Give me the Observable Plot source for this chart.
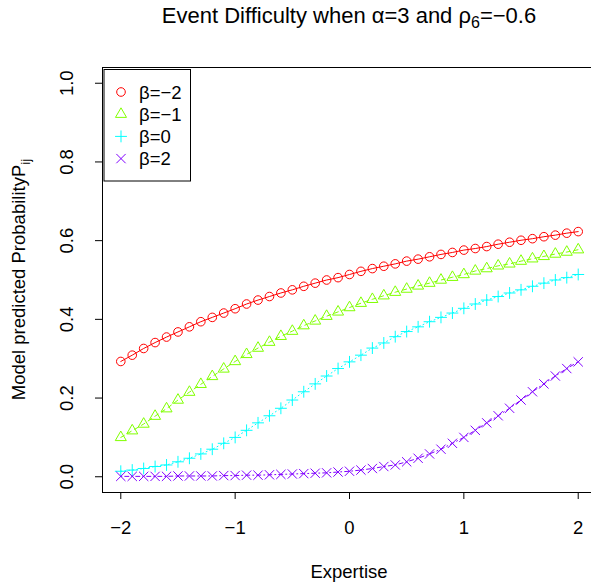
<!DOCTYPE html>
<html>
<head>
<meta charset="utf-8">
<script src="https://cdn.jsdelivr.net/npm/d3@7"></script>
<script src="https://cdn.jsdelivr.net/npm/@observablehq/plot@0.6"></script>
<style>
html, body { margin: 0; padding: 0; background: #fff; overflow: hidden; }
#fig { position: relative; width: 591px; height: 583px; overflow: hidden; background: #fff; }
#fig svg { display: block; max-width: none !important; }
</style>
</head>
<body>
<div id="fig"></div>
<script>
// ---- data ----
const expertise = [-2.0,-1.9,-1.8,-1.7,-1.6,-1.5,-1.4,-1.3,-1.2,-1.1,-1.0,-0.9,-0.8,-0.7,-0.6,-0.5,-0.4,-0.3,-0.2,-0.1,0.0,
  0.1,0.2,0.3,0.4,0.5,0.6,0.7,0.8,0.9,1.0,1.1,1.2,1.3,1.4,1.5,1.6,1.7,1.8,1.9,2.0];

const probBetaNeg2 = [0.293,0.309,0.326,0.341,0.355,0.368,0.381,0.394,0.405,0.416,0.427,0.439,0.449,0.458,0.467,0.475,0.484,0.492,0.500,0.506,0.514,
  0.522,0.529,0.535,0.541,0.548,0.553,0.559,0.565,0.570,0.576,0.580,0.585,0.591,0.596,0.601,0.605,0.610,0.614,0.619,0.623];

const probBetaNeg1 = [0.100,0.117,0.134,0.154,0.173,0.195,0.215,0.235,0.255,0.274,0.293,0.311,0.327,0.342,0.357,0.370,0.384,0.396,0.408,0.419,0.430,
  0.441,0.451,0.460,0.469,0.477,0.485,0.492,0.500,0.507,0.514,0.523,0.529,0.536,0.541,0.548,0.554,0.560,0.566,0.571,0.577];

const probBeta0 = [0.014,0.017,0.021,0.026,0.030,0.038,0.047,0.058,0.070,0.085,0.100,0.118,0.137,0.155,0.174,0.195,0.216,0.236,0.256,0.275,0.292,
  0.309,0.327,0.340,0.356,0.369,0.381,0.394,0.405,0.416,0.428,0.439,0.449,0.458,0.467,0.475,0.484,0.492,0.500,0.506,0.514];

const probBeta2 = [0.001,0.001,0.001,0.001,0.001,0.002,0.002,0.002,0.002,0.003,0.003,0.004,0.004,0.005,0.006,0.007,0.008,0.009,0.010,0.012,0.014,
  0.017,0.021,0.026,0.030,0.038,0.047,0.058,0.070,0.085,0.100,0.118,0.137,0.155,0.174,0.195,0.216,0.236,0.256,0.275,0.292];

const seriesNames = ["β=−2", "β=−1", "β=0", "β=2"];
const xTicks = [-2, -1, 0, 1, 2];
const xTickLabels = ["−2", "−1", "0", "1", "2"];
const yTicks = [0, 0.2, 0.4, 0.6, 0.8, 1.0];
const yTickLabels = ["0.0", "0.2", "0.4", "0.6", "0.8", "1.0"];

// ---- styles ----
const seriesColors = ["#FF0000", "#80FF00", "#00FFFF", "#8000FF"];
const seriesSymbols = ["circle", "triangle", "plus", "times"];
const seriesR = [4.3, 4.1, 3.9, 4.3];
const seriesDash = [null, "4,4", "1,3", "1,3,4,3"];
const d3Symbols = {circle: d3.symbolCircle, triangle: d3.symbolTriangle, plus: d3.symbolPlus, times: d3.symbolTimes};

const seriesValues = [probBetaNeg2, probBetaNeg1, probBeta0, probBeta2];
const rows = seriesNames.flatMap((name, k) => expertise.map((x, i) => ({k, series: name, x, p: seriesValues[k][i]})));

const FONT = "'Liberation Sans', Arial, Helvetica, sans-serif";
const FS = 18.5;

const marks = [Plot.frame({stroke: "black", strokeWidth: 1})];
seriesNames.forEach((name, k) => {
  const sub = rows.filter(d => d.k === k);
  marks.push(Plot.line(sub, {x: "x", y: "p", stroke: seriesColors[k], strokeWidth: 1, strokeDasharray: seriesDash[k]}));
});
seriesNames.forEach((name, k) => {
  const sub = rows.filter(d => d.k === k);
  marks.push(Plot.dot(sub, {x: "x", y: "p", symbol: seriesSymbols[k], r: seriesR[k], stroke: seriesColors[k], fill: "none", strokeWidth: 1}));
});
marks.push(Plot.axisX({ticks: xTicks, tickSize: 7, tickPadding: 21, tickFormat: d => xTickLabels[xTicks.indexOf(d)], fontSize: FS, label: null}));
marks.push(Plot.axisY({ticks: yTicks, tickSize: 7, tickFormat: () => "", label: null}));
marks.push(Plot.text(yTicks, {y: d => d, text: (d, i) => yTickLabels[i], frameAnchor: "left", dx: -35, rotate: -90, fontSize: FS, textAnchor: "middle", lineAnchor: "middle", fill: "black"}));

const chart = Plot.plot({
  width: 596,
  height: 583,
  marginLeft: 102,
  marginRight: 0,
  marginTop: 67,
  marginBottom: 91,
  x: {domain: [-2.16, 2.16]},
  y: {domain: [-0.04, 1.04]},
  style: {fontFamily: FONT, fontSize: FS + "px", background: "white", color: "black", overflow: "visible", maxWidth: "none"},
  marks
});

document.getElementById("fig").appendChild(chart);

// ---- titles, axis labels and legend ----
const svg = d3.select(chart);
const xs = chart.scale("x");
const ys = chart.scale("y");
const cx = (xs.range[0] + xs.range[1]) / 2;
const cy = (ys.range[0] + ys.range[1]) / 2;

const title = svg.append("text")
  .attr("x", cx).attr("y", 22.5)
  .attr("text-anchor", "middle")
  .attr("font-family", FONT).attr("font-size", 22).attr("fill", "black");
title.append("tspan").text("Event Difficulty when α=3 and ρ");
title.append("tspan").attr("dy", 5).attr("font-size", 16).text("6");
title.append("tspan").attr("dy", -5).text("=−0.6");

svg.append("text")
  .attr("x", cx).attr("y", 578)
  .attr("text-anchor", "middle")
  .attr("font-family", FONT).attr("font-size", FS).attr("fill", "black")
  .text("Expertise");

const ylab = svg.append("text")
  .attr("transform", `translate(25,${cy}) rotate(-90)`)
  .attr("text-anchor", "middle")
  .attr("font-family", FONT).attr("font-size", FS).attr("fill", "black");
ylab.append("tspan").text("Model predicted ProbabilityP");
ylab.append("tspan").attr("dy", 4.5).attr("font-size", 13.5).text("ij");

// legend (top-left, inside plot region)
const lx = xs.range[0] + 1.5, ly = ys.range[1] + 2;
const leg = svg.append("g");
leg.append("rect")
  .attr("x", lx + 0.5).attr("y", ly + 0.5)
  .attr("width", 86.5).attr("height", 111.5)
  .attr("fill", "white").attr("stroke", "black").attr("stroke-width", 1);
seriesNames.forEach((name, k) => {
  const ry = ly + 23 + k * 22.2;
  leg.append("path")
    .attr("transform", `translate(${lx + 17.5},${ry})`)
    .attr("d", d3.symbol(d3Symbols[seriesSymbols[k]], Math.PI * seriesR[k] * seriesR[k])())
    .attr("fill", "none").attr("stroke", seriesColors[k]).attr("stroke-width", 1);
  leg.append("text")
    .attr("x", lx + 35.5).attr("y", ry + 6.5)
    .attr("text-anchor", "start")
    .attr("font-family", FONT).attr("font-size", FS).attr("fill", "black")
    .text(name);
});
</script>
</body>
</html>
